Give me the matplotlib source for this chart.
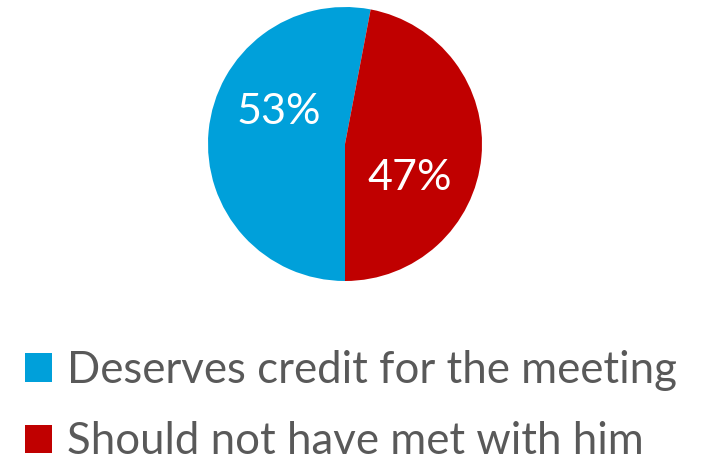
import matplotlib
matplotlib.use('Agg')
from matplotlib import pyplot as plt
from matplotlib.patches import Patch

labels = ['Deserves credit for the meeting', 'Should not have met with him']
values = [53, 47]
colors = ['#00A0DA', '#C00000']
label_pos = [(-0.48, 0.23), (0.47, -0.25)]

plt.rcParams['font.family'] = ['Lato', 'DejaVu Sans']

fig = plt.figure(figsize=(7.13, 4.62), dpi=100)
ax = fig.add_axes([345 / 713 - 137 / 713, 1 - 281 / 462, 274 / 713, 274 / 462])
wedges, texts, autotexts = ax.pie(values, colors=colors, startangle=270, counterclock=False,
                                  autopct='%.0f%%', pctdistance=0.55,
                                  textprops={'color': 'white', 'fontsize': 31})
for t, p in zip(autotexts, label_pos):
    t.set_position(p)
ax.set_xlim(-1, 1)
ax.set_ylim(-1, 1)
ax.set_aspect('equal')
ax.axis('off')

handles = [Patch(facecolor=c, edgecolor='none') for c in colors]
leg = fig.legend(handles, labels, loc='upper left', bbox_to_anchor=(0.035, 0.243),
                 frameon=False, fontsize=31.5, labelcolor='#595959',
                 handlelength=0.62, handleheight=0.62, handletextpad=0.34,
                 labelspacing=0.7, borderaxespad=0, borderpad=0)

plt.savefig('out.png', dpi=100)
